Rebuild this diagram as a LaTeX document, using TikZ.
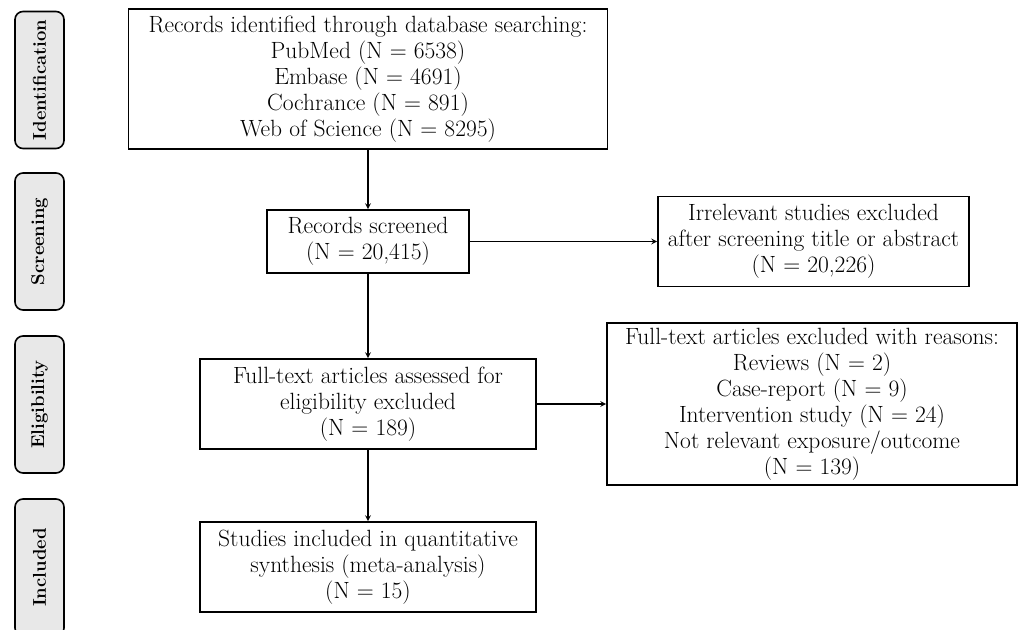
\documentclass[tikz,border=0pt]{standalone}
\usepackage{tikz}
\usetikzlibrary{arrows}

\begin{document}
\begin{tikzpicture}[x=1pt,y=-1pt,>=stealth,
  box/.style={draw,line width=1.6pt,align=center,inner sep=2pt,font=\fontsize{23.5}{26}\selectfont},
  phase/.style={draw,line width=1.6pt,rounded corners=8pt,fill=gray!18,rotate=90,minimum width=137pt,minimum height=49pt,font=\fontsize{18.5}{22}\selectfont\bfseries},
  flow/.style={->,line width=1.6pt}]
\useasboundingbox (0,0) rectangle (1019,629);
\node[phase] (idlab) at (39.5,80) {Identification};
\node[phase] (sclab) at (39.5,241.5) {Screening};
\node[phase] (ellab) at (39.5,404.5) {Eligibility};
\node[phase] (inlab) at (39.5,567.5) {Included};
\node[box,minimum width=479pt,minimum height=140pt] (ident) at (368,79) {Records identified through database searching:\\PubMed (N = 6538)\\Embase (N = 4691)\\Cochrance (N = 891)\\Web of Science (N = 8295)};
\node[box,minimum width=202pt,minimum height=63pt] (screen) at (368,241.5) {Records screened\\(N = 20,415)};
\node[box,minimum width=311pt,minimum height=90pt] (irrel) at (813.5,241.5) {Irrelevant studies excluded\\after screening title or abstract\\(N = 20,226)};
\node[box,minimum width=336pt,minimum height=90pt] (assess) at (368,404) {Full-text articles assessed for\\eligibility excluded\\(N = 189)};
\node[box,minimum width=410pt,minimum height=162pt] (excl) at (812,404) {Full-text articles excluded with reasons:\\Reviews (N = 2)\\Case-report (N = 9)\\Intervention study (N = 24)\\Not relevant exposure/outcome\\(N = 139)};
\node[box,minimum width=336pt,minimum height=90pt] (incl) at (368,567) {Studies included in quantitative\\synthesis (meta-analysis)\\(N = 15)};
\draw[flow] (ident) -- (screen);
\draw[flow] (screen) -- (irrel);
\draw[flow] (screen) -- (assess);
\draw[flow] (assess) -- (excl);
\draw[flow] (assess) -- (incl);
\end{tikzpicture}
\end{document}
